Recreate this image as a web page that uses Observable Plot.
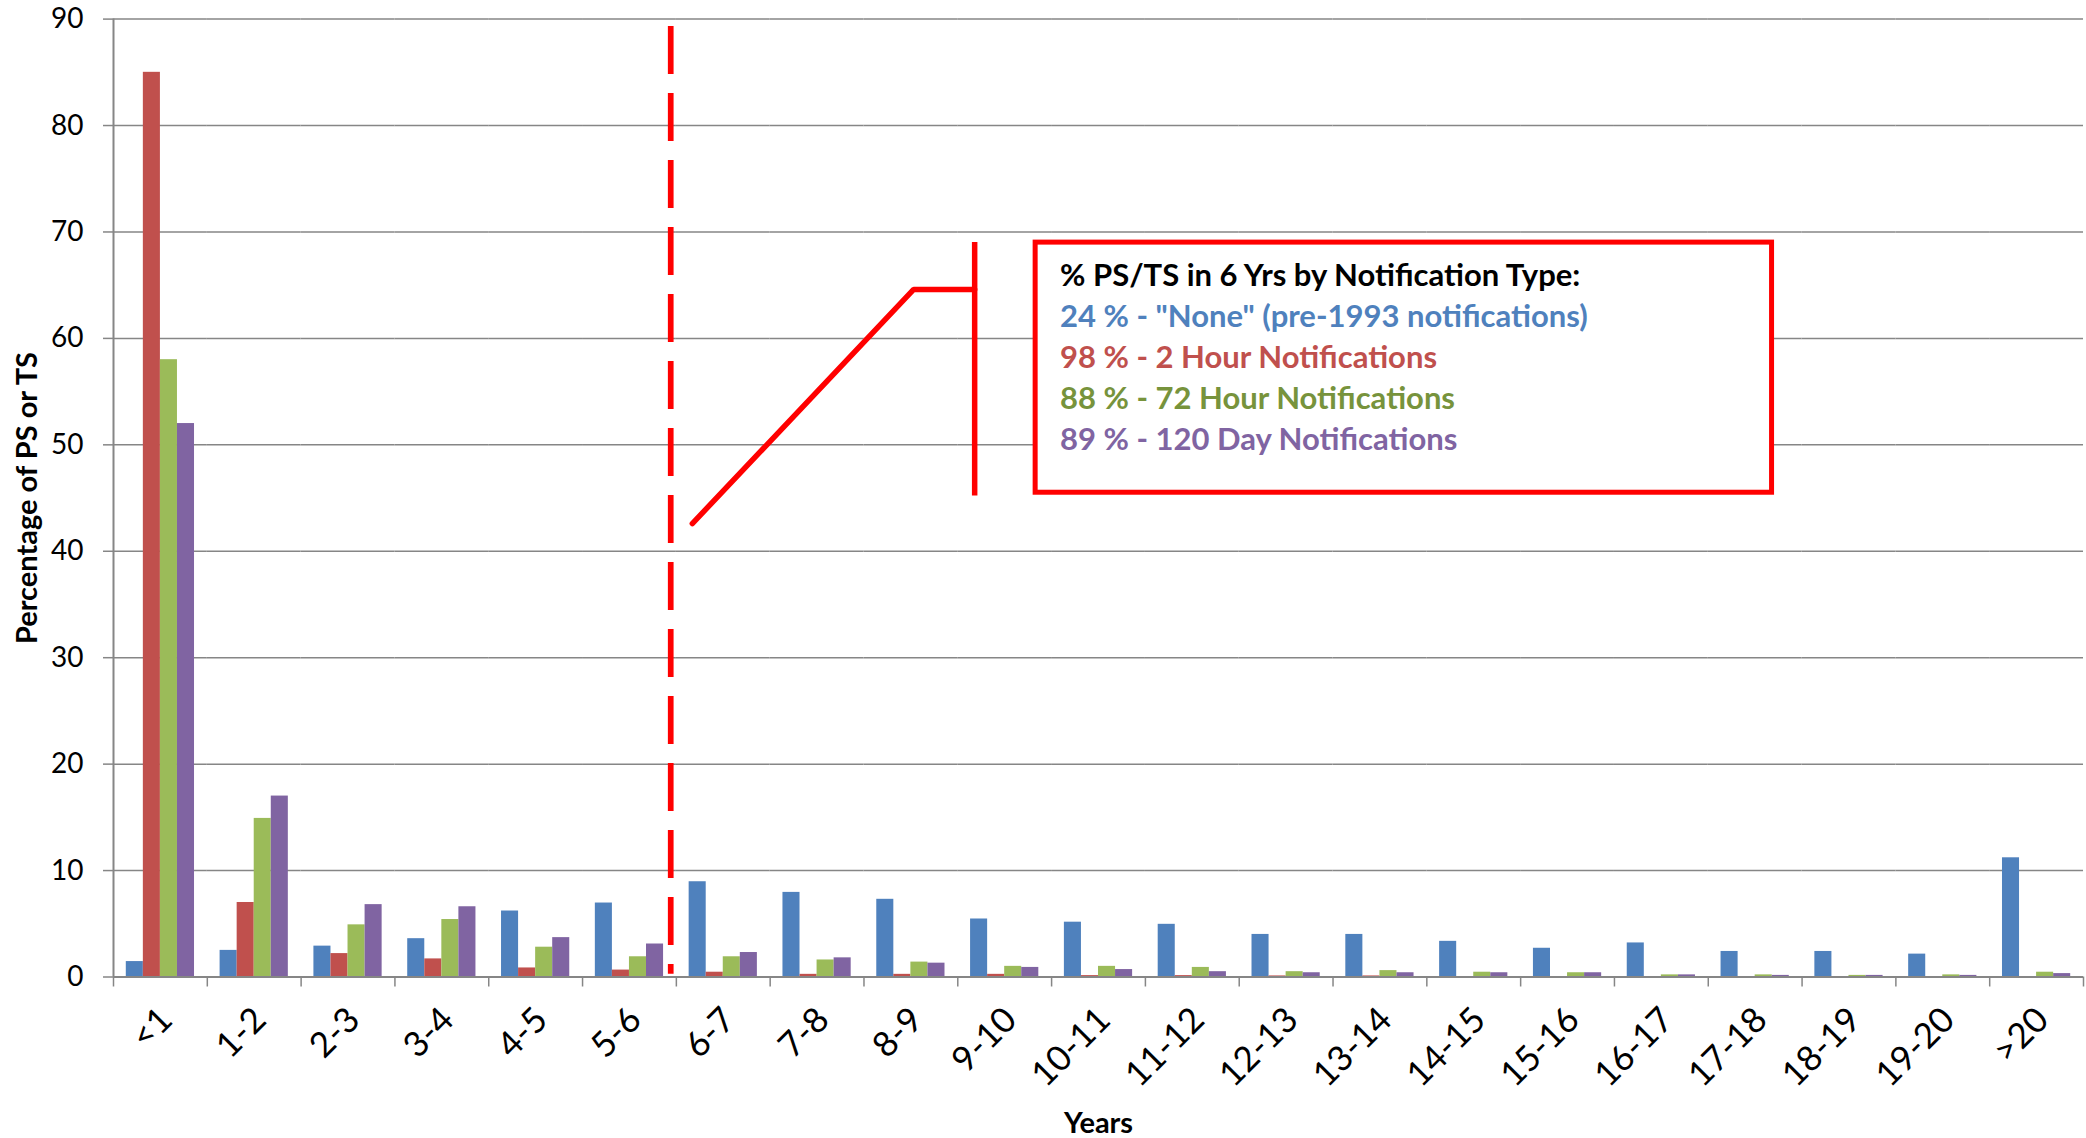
<!DOCTYPE html>
<html><head><meta charset="utf-8">
<script src="https://cdn.jsdelivr.net/npm/d3@7"></script>
<script src="https://cdn.jsdelivr.net/npm/@observablehq/plot@0.6"></script>
<style>
html,body{margin:0;padding:0;background:#fff;}
#chart{position:relative;width:2086px;height:1138px;}
#chart svg{position:absolute;left:0;top:0;}
</style></head><body><div id="chart"></div>
<script>
// ---- data ----
const categories = ["<1","1-2","2-3","3-4","4-5","5-6","6-7","7-8","8-9","9-10","10-11","11-12","12-13","13-14","14-15","15-16","16-17","17-18","18-19","19-20",">20"];
const seriesNames = ["None (pre-1993)", "2 Hour", "72 Hour", "120 Day"];
const seriesColors = ["#4F81BD", "#C0504D", "#9BBB59", "#8064A2"];
const noneValues = [1.45, 2.5, 2.9, 3.6, 6.2, 6.95, 8.95, 7.95, 7.3, 5.45, 5.15, 4.95, 4.0, 4.0, 3.35, 2.7, 3.2, 2.4, 2.4, 2.15, 11.2];
const twoHourValues = [85.0, 7.0, 2.2, 1.7, 0.85, 0.65, 0.45, 0.25, 0.25, 0.25, 0.13, 0.13, 0.1, 0.1, 0, 0, 0, 0, 0, 0, 0];
const seventyTwoHourValues = [58.0, 14.9, 4.9, 5.4, 2.8, 1.9, 1.9, 1.6, 1.4, 1.0, 1.0, 0.9, 0.5, 0.6, 0.45, 0.4, 0.2, 0.2, 0.15, 0.2, 0.45];
const oneTwentyDayValues = [52.0, 17.0, 6.8, 6.6, 3.7, 3.1, 2.3, 1.8, 1.3, 0.9, 0.7, 0.5, 0.4, 0.4, 0.4, 0.4, 0.2, 0.15, 0.15, 0.15, 0.32];
const yTicks = [0, 10, 20, 30, 40, 50, 60, 70, 80, 90];
const categoryBoundaries = d3.range(0, categories.length + 1);

const annotationLines = [
  "% PS/TS in 6 Yrs by Notification Type:",
  "24 % - \"None\" (pre-1993 notifications)",
  "98 % - 2 Hour Notifications",
  "88 % - 72 Hour Notifications",
  "89 % - 120 Day Notifications"
];
const annotationColors = ["#000000", "#4F81BD", "#C0504D", "#77933C", "#8064A2"];
const annotationLineY = [65.85, 62.0, 58.15, 54.3, 50.45];
const annotationX = 10.09;
const dividerX = 5.94;
const calloutPath = [{x: 6.17, y: 42.6}, {x: 8.53, y: 64.6}, {x: 9.18, y: 64.6}];
const calloutBar = {x: 9.18, y1: 45.2, y2: 69.0};
const annotationBox = {x1: 9.83, x2: 17.68, y1: 45.5, y2: 69.0};

// ---- table ----
const seriesValues = [noneValues, twoHourValues, seventyTwoHourValues, oneTwentyDayValues];
const rows = [];
categories.forEach((c, i) => seriesNames.forEach((s, k) => rows.push({category: c, series: s, value: seriesValues[k][i]})));

const W = 2086, H = 1138;
const margins = {marginTop: 18.6, marginRight: 3, marginBottom: 161.5, marginLeft: 113};
const font = "Lato, 'Open Sans', sans-serif";
const gray = "#868686";

const main = Plot.plot({
  width: W, height: H, ...margins,
  style: {fontFamily: font, background: "white", overflow: "visible"},
  fx: {domain: categories, padding: 0, round: false, label: null},
  x: {domain: seriesNames, paddingInner: 0, paddingOuter: 0.75, round: false, axis: null},
  y: {domain: [0, 90], axis: null},
  color: {domain: seriesNames, range: seriesColors},
  marks: [
    Plot.gridY(yTicks, {stroke: gray, strokeOpacity: 1, strokeWidth: 1.5}),
    Plot.axisY(yTicks, {tickSize: 10, tickPadding: 20, fontSize: 28, stroke: gray, strokeWidth: 1.5, fill: "black", label: null}),
    Plot.barY(rows, {fx: "category", x: "series", y: "value", fill: "series"}),
    Plot.axisFx({anchor: "bottom", tickRotate: -45, tickSize: 0, tickPadding: 37, dx: 6, fontSize: 35, fill: "black", label: null})
  ]
});

const overlay = Plot.plot({
  width: W, height: H, ...margins,
  style: {fontFamily: font, background: "transparent", overflow: "visible"},
  x: {domain: [0, categories.length], axis: null},
  y: {domain: [0, 90], axis: null},
  marks: [
    Plot.axisX(categoryBoundaries, {anchor: "bottom", tickSize: 10, tickFormat: () => "", stroke: gray, strokeWidth: 1.5, label: null}),
    Plot.ruleY([0], {stroke: gray, strokeWidth: 2}),
    Plot.ruleX([0], {stroke: gray, strokeWidth: 2}),
    Plot.ruleX([dividerX], {y1: 89.3, y2: 0.25, stroke: "#FF0000", strokeWidth: 5.7, strokeDasharray: "48,19"}),
    Plot.line(calloutPath, {x: "x", y: "y", stroke: "#FF0000", strokeWidth: 5.5, strokeLinejoin: "miter"}),
    Plot.ruleX([calloutBar], {x: "x", y1: "y1", y2: "y2", stroke: "#FF0000", strokeWidth: 5.5}),
    Plot.rect([annotationBox], {x1: "x1", x2: "x2", y1: "y1", y2: "y2", fill: "white", stroke: "#FF0000", strokeWidth: 5}),
    Plot.text(annotationLines, {x: () => annotationX, y: (d, i) => annotationLineY[i], text: d => d, fill: (d, i) => annotationColors[i], textAnchor: "start", fontSize: 31, fontWeight: "bold"}),
    Plot.text(["Percentage of PS or TS"], {frameAnchor: "left", textAnchor: "middle", rotate: -90, dx: -86, fontSize: 29, fontWeight: "bold", fill: "black"}),
    Plot.text(["Years"], {frameAnchor: "bottom", dy: 156, fontSize: 29, fontWeight: "bold", fill: "black"})
  ]
});

const chart = document.getElementById("chart");
chart.appendChild(main);
chart.appendChild(overlay);
</script>
</body></html>
